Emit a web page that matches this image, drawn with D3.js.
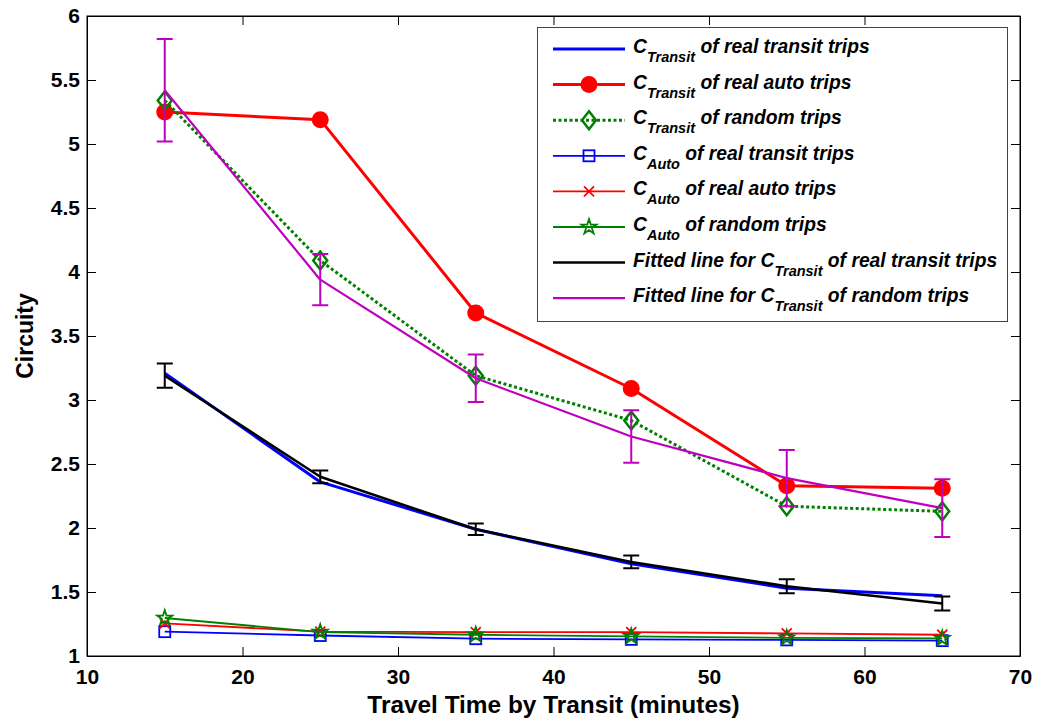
<!DOCTYPE html>
<html><head><meta charset="utf-8">
<script src="https://cdn.jsdelivr.net/npm/d3@7"></script>
<style>
body{margin:0;background:#fff;}
svg text{font-family:"Liberation Sans",Arial,sans-serif;font-weight:bold;}
</style></head>
<body><svg id="c" width="1046" height="722"></svg>
<script>
// ---- data ----
const times = [15, 25, 35, 45, 55, 65];
const transitRealTransit = [3.21, 2.36, 1.99, 1.72, 1.53, 1.47];
const transitRealAuto    = [5.25, 5.19, 3.68, 3.09, 2.33, 2.31];
const transitRandom      = [5.34, 4.09, 3.19, 2.84, 2.17, 2.13];
const autoRealTransit    = [1.19, 1.16, 1.135, 1.13, 1.126, 1.12];
const autoRealAuto       = [1.255, 1.19, 1.187, 1.187, 1.176, 1.166];
const autoRandom         = [1.297, 1.187, 1.166, 1.153, 1.142, 1.137];
const fitTransit         = [3.19, 2.40, 1.99, 1.735, 1.545, 1.41];
const fitTransitErr      = [0.095, 0.05, 0.045, 0.05, 0.055, 0.055];
const fitRandom          = [5.42, 3.94, 3.17, 2.715, 2.39, 2.155];
const fitRandomErr       = [0.40, 0.20, 0.185, 0.205, 0.22, 0.225];
const xTicks = [10, 20, 30, 40, 50, 60, 70];
const yTicks = [1, 1.5, 2, 2.5, 3, 3.5, 4, 4.5, 5, 5.5, 6];
const legendLabels = [
  ["C", "Transit", " of real transit trips"],
  ["C", "Transit", " of real auto trips"],
  ["C", "Transit", " of random trips"],
  ["C", "Auto", " of real transit trips"],
  ["C", "Auto", " of real auto trips"],
  ["C", "Auto", " of random trips"],
  ["Fitted line for C", "Transit", " of real transit trips"],
  ["Fitted line for C", "Transit", " of random trips"]
];
const xTitle = "Travel Time by Transit (minutes)";
const yTitle = "Circuity";

// ---- layout ----
const L = 87, R = 1020, T = 16, B = 656;
const x = d3.scaleLinear().domain([10, 70]).range([L, R]);
const y = d3.scaleLinear().domain([1, 6]).range([B, T]);
const svg = d3.select("#c");

// axes
const fmt = d => String(d);
svg.append("g").attr("transform", `translate(0,${B})`)
  .call(d3.axisBottom(x).tickValues(xTicks).tickFormat(fmt).tickSizeInner(-9).tickSizeOuter(0).tickPadding(13))
  .call(g => g.selectAll("text").attr("font-size", 21).attr("fill", "#000"));
svg.append("g").attr("transform", `translate(0,${T})`)
  .call(d3.axisTop(x).tickValues(xTicks).tickFormat("").tickSizeInner(-9).tickSizeOuter(0));
svg.append("g").attr("transform", `translate(${L},0)`)
  .call(d3.axisLeft(y).tickValues(yTicks).tickFormat(fmt).tickSizeInner(-9).tickSizeOuter(0).tickPadding(7))
  .call(g => g.selectAll("text").attr("font-size", 21).attr("fill", "#000"));
svg.append("g").attr("transform", `translate(${R},0)`)
  .call(d3.axisRight(y).tickValues(yTicks).tickFormat("").tickSizeInner(-9).tickSizeOuter(0));
svg.selectAll(".domain").attr("stroke", "#000");
svg.selectAll(".tick line").attr("stroke", "#000");
svg.append("rect").attr("x", L).attr("y", T).attr("width", R - L).attr("height", B - T)
  .attr("fill", "none").attr("stroke", "#000").attr("stroke-width", 1);

svg.append("text").attr("x", (L + R) / 2).attr("y", 713).attr("text-anchor", "middle")
  .attr("font-size", 24.4).text(xTitle);
svg.append("text").attr("transform", `translate(33,${(T + B) / 2}) rotate(-90)`)
  .attr("text-anchor", "middle").attr("font-size", 23).text(yTitle);

// ---- series ----
const line = d3.line().x((d, i) => x(times[i])).y(d => y(d));
const plot = svg.append("g");

function drawLine(vals, color, w, dash) {
  plot.append("path").datum(vals).attr("d", line).attr("fill", "none")
    .attr("stroke", color).attr("stroke-width", w).attr("stroke-linejoin", "round")
    .attr("stroke-dasharray", dash || null);
}
function marker(g, type, cx, cy, color) {
  if (type === "circle") {
    g.append("circle").attr("cx", cx).attr("cy", cy).attr("r", 8.5).attr("fill", color);
  } else if (type === "diamond") {
    g.append("path").attr("d", `M${cx},${cy-9}L${cx+7},${cy}L${cx},${cy+9}L${cx-7},${cy}Z`)
      .attr("fill", "none").attr("stroke", color).attr("stroke-width", 2.5);
  } else if (type === "square") {
    g.append("rect").attr("x", cx - 5.5).attr("y", cy - 5.5).attr("width", 11).attr("height", 11)
      .attr("fill", "none").attr("stroke", color).attr("stroke-width", 1.8);
  } else if (type === "x") {
    g.append("path").attr("d", `M${cx-5},${cy-5}L${cx+5},${cy+5}M${cx-5},${cy+5}L${cx+5},${cy-5}`)
      .attr("stroke", color).attr("stroke-width", 1.8);
  } else if (type === "star") {
    const sym = d3.symbol().type(d3.symbolStar).size(70);
    g.append("path").attr("d", sym()).attr("transform", `translate(${cx},${cy})`)
      .attr("fill", "none").attr("stroke", color).attr("stroke-width", 1.8);
  }
}
function drawMarkers(vals, type, color) {
  vals.forEach((v, i) => marker(plot, type, x(times[i]), y(v), color));
}
function drawErr(vals, errs, color, w) {
  vals.forEach((v, i) => {
    const cx = x(times[i]), y0 = y(v - errs[i]), y1 = y(v + errs[i]);
    plot.append("path").attr("d", `M${cx},${y0}L${cx},${y1}M${cx-8},${y0}L${cx+8},${y0}M${cx-8},${y1}L${cx+8},${y1}`)
      .attr("stroke", color).attr("stroke-width", w).attr("fill", "none");
  });
}

const BLUE = "#0000ff", RED = "#ff0000", GREEN = "#008000", BLACK = "#000000", MAG = "#bf00bf";

drawLine(transitRealTransit, BLUE, 3);
drawLine(transitRealAuto, RED, 3); drawMarkers(transitRealAuto, "circle", RED);
drawLine(transitRandom, GREEN, 3, "3,2.5"); drawMarkers(transitRandom, "diamond", GREEN);
drawLine(autoRealTransit, BLUE, 1.8); drawMarkers(autoRealTransit, "square", BLUE);
drawLine(autoRealAuto, RED, 1.8); drawMarkers(autoRealAuto, "x", RED);
drawLine(autoRandom, GREEN, 1.8); drawMarkers(autoRandom, "star", GREEN);
drawLine(fitTransit, BLACK, 2.5); drawErr(fitTransit, fitTransitErr, BLACK, 2);
drawLine(fitRandom, MAG, 2.2); drawErr(fitRandom, fitRandomErr, MAG, 2);

// ---- legend ----
const lg = svg.append("g");
lg.append("rect").attr("x", 537.5).attr("y", 27.5).attr("width", 470).attr("height", 294)
  .attr("fill", "#fff").attr("stroke", "#444").attr("stroke-width", 1);
const legendStyles = [
  {c: BLUE, w: 3, m: null},
  {c: RED, w: 3, m: "circle"},
  {c: GREEN, w: 3, m: "diamond", dash: "3,2.5"},
  {c: BLUE, w: 1.8, m: "square"},
  {c: RED, w: 1.8, m: "x"},
  {c: GREEN, w: 1.8, m: "star"},
  {c: BLACK, w: 2.5, m: null},
  {c: MAG, w: 2.2, m: null}
];
legendLabels.forEach((lab, i) => {
  const cy = 49 + i * 35.6, st = legendStyles[i];
  lg.append("line").attr("x1", 553).attr("x2", 625).attr("y1", cy).attr("y2", cy)
    .attr("stroke", st.c).attr("stroke-width", st.w).attr("stroke-dasharray", st.dash || null);
  if (st.m) marker(lg, st.m, 589, cy, st.c);
  const t = lg.append("text").attr("x", 633).attr("y", cy + 4).attr("font-style", "italic").attr("font-size", 19.3);
  t.append("tspan").text(lab[0]);
  t.append("tspan").attr("font-size", 14.5).attr("dy", 9).text(lab[1]);
  t.append("tspan").attr("dy", -9).text(lab[2]);
});
</script></body></html>
